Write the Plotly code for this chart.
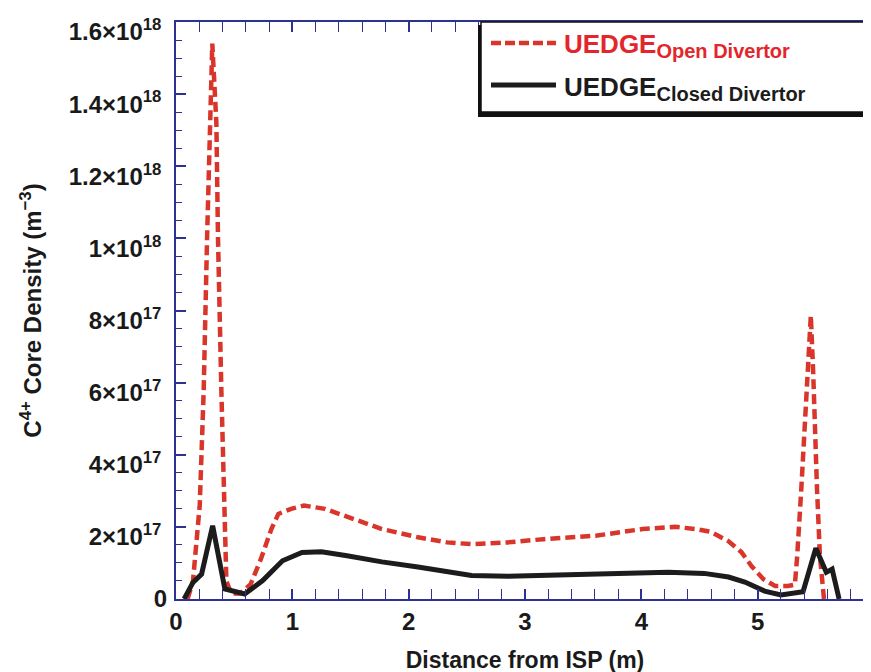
import plotly.graph_objects as go

# ---------------- data ----------------
open_x = [0.10, 0.146, 0.204, 0.238, 0.267, 0.29, 0.312, 0.347, 0.361, 0.39, 0.419, 0.433,
          0.475, 0.55, 0.64, 0.73, 0.82, 0.88, 0.99, 1.10, 1.28, 1.56, 1.77, 2.08, 2.33,
          2.54, 2.85, 3.16, 3.62, 4.01, 4.29, 4.47, 4.60, 4.75, 4.86, 4.95, 5.05, 5.15,
          5.26, 5.32, 5.34, 5.375, 5.405, 5.43, 5.457, 5.477, 5.49, 5.51, 5.535, 5.57]
open_y = [0.0, 5.0e16, 2.6e17, 5.77e17, 1.0e18, 1.32e18, 1.54e18, 1.32e18, 1.0e18, 5.77e17,
          2.6e17, 5.0e16, 1.5e16, 1.5e16, 4.0e16, 1.11e17, 1.94e17, 2.36e17, 2.5e17, 2.59e17,
          2.5e17, 2.17e17, 1.94e17, 1.71e17, 1.57e17, 1.52e17, 1.57e17, 1.66e17, 1.76e17,
          1.94e17, 2.0e17, 1.94e17, 1.86e17, 1.6e17, 1.3e17, 9.0e16, 5.5e16, 3.6e16, 3.6e16,
          4.0e16, 1.2e17, 3.05e17, 4.9e17, 6.7e17, 7.86e17, 6.3e17, 4.9e17, 3.05e17, 1.2e17, 0.0]

closed_x = [0.07, 0.146, 0.22, 0.315, 0.42, 0.59, 0.745, 0.915, 1.083, 1.25, 1.47, 1.77,
            2.08, 2.33, 2.54, 2.85, 3.31, 3.92, 4.23, 4.54, 4.75, 4.89, 5.06, 5.20, 5.39,
            5.50, 5.59, 5.64, 5.70]
closed_y = [0.0, 4.6e16, 6.9e16, 2.03e17, 2.8e16, 1.4e16, 5.1e16, 1.06e17, 1.29e17, 1.31e17,
            1.2e17, 1.03e17, 8.9e16, 7.5e16, 6.5e16, 6.3e16, 6.7e16, 7.2e16, 7.4e16, 7.1e16,
            6.1e16, 4.7e16, 2.2e16, 1.1e16, 2.0e16, 1.41e17, 7.4e16, 8.3e16, 0.0]

x_ticks = [0, 1, 2, 3, 4, 5, 6]
y_ticks = [2e17, 4e17, 6e17, 8e17, 1e18, 1.2e18, 1.4e18, 1.6e18]
y_ticktext = ["2\u00d710<sup>17</sup>", "4\u00d710<sup>17</sup>", "6\u00d710<sup>17</sup>",
              "8\u00d710<sup>17</sup>", "1\u00d710<sup>18</sup>", "1.2\u00d710<sup>18</sup>",
              "1.4\u00d710<sup>18</sup>", "1.6\u00d710<sup>18</sup>"]
y_zero_tick = [0]
y_zero_text = ["0"]

series_labels = ["UEDGE", "UEDGE"]
series_subs = ["Open Divertor", "Closed Divertor"]

# ---------------- styling ----------------
W, H = 871, 672
L, R, T, B = 168, 5, 14, 81
PW, PH = W - L - R, H - T - B
FONT = "Liberation Sans, Arial, Helvetica, sans-serif"
AXC = "#2e3192"
RED = "#d9352a"
BLK = "#1c1c1c"
TXT = "#1a1a1a"
Y_RANGE = [0, 1.6e18]

def px(xp):
    return (xp - L) / PW

def py(yp):
    return (H - B - yp) / PH

fig = go.Figure()
fig.add_trace(go.Scatter(x=open_x, y=open_y, mode="lines",
                         name=series_labels[0] + " " + series_subs[0],
                         line=dict(color=RED, width=4.5, dash="10px,5px")))
fig.add_trace(go.Scatter(x=closed_x, y=closed_y, mode="lines",
                         name=series_labels[1] + " " + series_subs[1],
                         line=dict(color=BLK, width=5)))
# empty trace so the companion axis (carrying the "0" label) gets drawn
fig.add_trace(go.Scatter(x=[], y=[], yaxis="y2", mode="lines", showlegend=False, hoverinfo="skip"))

tickfont = dict(family=FONT, size=24, color=TXT, weight="bold")
axis_common = dict(showline=True, linecolor=AXC, linewidth=1.5, mirror="allticks",
                   ticks="inside", ticklen=10, tickwidth=1.5, tickcolor=AXC,
                   showgrid=False, zeroline=False, ticklabeloverflow="allow",
                   automargin=False, tickfont=tickfont)

fig.update_layout(
    xaxis=dict(range=[0, 6], tickvals=x_ticks, ticklabelstandoff=0,
               minor=dict(dtick=0.2, ticks="inside", ticklen=6, tickwidth=1.2, tickcolor=AXC),
               title=dict(text="Distance from ISP (m)", standoff=18,
                          font=dict(family=FONT, size=23, color=TXT, weight="bold")),
               **axis_common),
    yaxis=dict(range=Y_RANGE, tickvals=y_ticks, ticktext=y_ticktext,
               ticklabelstandoff=8, ticklabelshift=10,
               minor=dict(dtick=5e16, ticks="inside", ticklen=6, tickwidth=1.2, tickcolor=AXC),
               title=dict(text="C<sup>4+</sup> Core Density (m<sup>\u22123</sup>)", standoff=20,
                          font=dict(family=FONT, size=24, color=TXT, weight="bold")),
               **axis_common),
    # companion axis carrying only the "0" label (unshifted, as in the original)
    yaxis2=dict(overlaying="y", anchor="x", side="left", range=Y_RANGE,
                tickvals=y_zero_tick, ticktext=y_zero_text, ticks="",
                showline=False, showgrid=False, zeroline=False,
                ticklabelstandoff=8, ticklabeloverflow="allow",
                automargin=False, tickfont=tickfont),
)

# legend box with drop shadow (drawn in paper coordinates)
fig.add_shape(type="rect", xref="paper", yref="paper", x0=px(470), x1=px(900), y0=py(109), y1=py(17),
              fillcolor="#111111", line=dict(width=0), layer="above")
fig.add_shape(type="rect", xref="paper", yref="paper", x0=px(473), x1=px(905), y0=py(104), y1=py(14),
              fillcolor="white", line=dict(color="#111111", width=1.5), layer="above")
fig.add_shape(type="line", xref="paper", yref="paper", x0=px(483), x1=px(548), y0=py(35), y1=py(35),
              line=dict(color=RED, width=4.5, dash="10px,4px"), layer="above")
fig.add_shape(type="line", xref="paper", yref="paper", x0=px(483), x1=px(548), y0=py(77), y1=py(77),
              line=dict(color=BLK, width=5), layer="above")
legend_colors = ["#e3262b", BLK]
legend_rows = [38, 80]
for lab, sub, col, yy in zip(series_labels, series_subs, legend_colors, legend_rows):
    fig.add_annotation(xref="paper", yref="paper", x=px(554), y=py(yy), xanchor="left", yanchor="middle",
                       text=f"{lab}<sub><span style='font-size:20px'>{sub}</span></sub>",
                       showarrow=False, font=dict(family=FONT, size=26, color=col, weight="bold"))

fig.update_layout(width=W, height=H, margin=dict(l=L, r=R, t=T, b=B, pad=0, autoexpand=False),
                  paper_bgcolor="white", plot_bgcolor="white", showlegend=False,
                  font=dict(family=FONT, color=TXT))

fig.write_html("out.html")
